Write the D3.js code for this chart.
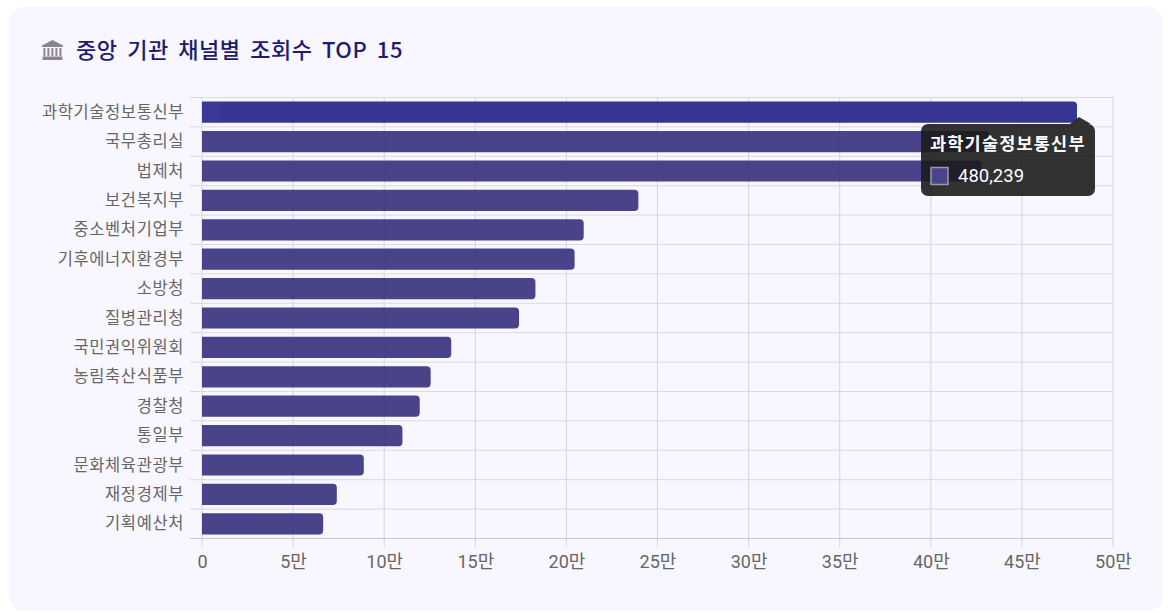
<!DOCTYPE html>
<html lang="ko">
<head>
<meta charset="utf-8">
<script src="https://cdn.jsdelivr.net/npm/d3@7"></script>
<style>
html, body { margin: 0; padding: 0; background: #fff; }
svg { display: block; }
text { font-family: "Noto Sans CJK KR", "Noto Sans", sans-serif; }
.tick-x text { font-family: Roboto, "Noto Sans CJK KR", sans-serif; }
</style>
</head>
<body>
<svg id="chart" width="1172" height="613"></svg>
<script>
var channels = ['과학기술정보통신부', '국무총리실', '법제처', '보건복지부', '중소벤처기업부',
    '기후에너지환경부', '소방청', '질병관리청', '국민권익위원회', '농림축산식품부',
    '경찰청', '통일부', '문화체육관광부', '재정경제부', '기획예산처'];
var views = [480239, 432000, 428000, 239500, 209500, 204500, 183000, 174000,
    136800, 125500, 119500, 110000, 88800, 74000, 66500];
var xTicks = [0, 50000, 100000, 150000, 200000, 250000, 300000, 350000, 400000, 450000, 500000];

var svg = d3.select('#chart');

// card
svg.append('rect')
    .attr('x', 9).attr('y', 7)
    .attr('width', 1154).attr('height', 604)
    .attr('rx', 15)
    .attr('fill', '#f8f7ff');

// title icon
var icon = svg.append('g')
    .attr('transform', 'translate(42,40)')
    .attr('fill', '#8a8494');
icon.append('path').attr('d', 'M10.5 0 L21 5.5 L21 7 L0 7 L0 5.5 Z');
[2, 6, 10, 14, 18].forEach(function(d) {
    icon.append('rect').attr('x', d - 0.6).attr('y', 8).attr('width', 2).attr('height', 8);
});
icon.append('rect').attr('x', 0.5).attr('y', 16.5).attr('width', 20).attr('height', 3.5);

svg.append('text')
    .attr('x', 76).attr('y', 58)
    .attr('font-size', 22)
    .attr('font-weight', 500)
    .attr('fill', '#1e1b70')
    .attr('word-spacing', 3)
    .attr('letter-spacing', 0.5)
    .text('중앙 기관 채널별 조회수 TOP 15');

var x = d3.scaleLinear().domain([0, 500000]).range([202, 1113]);
var y = d3.scaleBand().domain(channels).range([97.5, 538.5]).paddingInner(0.28).paddingOuter(0.14);
var rowEdges = d3.range(channels.length + 1);
var yEdge = d3.scaleLinear().domain([0, channels.length]).range([97.5, 538.5]);

// grid
svg.append('g').selectAll('line')
    .data(xTicks)
    .enter()
    .append('line')
    .attr('x1', function(d) { return x(d); })
    .attr('x2', function(d) { return x(d); })
    .attr('y1', 97.5).attr('y2', 547)
    .attr('stroke', '#d6d4dd');

svg.append('g').selectAll('line')
    .data(rowEdges)
    .enter()
    .append('line')
    .attr('x1', 190).attr('x2', 1113)
    .attr('y1', function(d) { return yEdge(d); })
    .attr('y2', function(d) { return yEdge(d); })
    .attr('stroke', function(d) { return d == channels.length ? '#c8c6d1' : '#dbd9e2'; });

// bars
var barPath = function(d) {
    var x0 = x(0), x1 = x(d), r = 4, h = y.bandwidth();
    return 'M' + x0 + ' 0H' + (x1 - r) + 'Q' + x1 + ' 0 ' + x1 + ' ' + r +
        'V' + (h - r) + 'Q' + x1 + ' ' + h + ' ' + (x1 - r) + ' ' + h + 'H' + x0 + 'Z';
};

svg.append('g').selectAll('path')
    .data(views)
    .enter()
    .append('path')
    .attr('transform', function(d, i) { return 'translate(0,' + y(channels[i]) + ')'; })
    .attr('d', barPath)
    .attr('fill', function(d, i) { return i == 0 ? '#312e8f' : '#332d7c'; })
    .attr('fill-opacity', function(d, i) { return i == 0 ? 0.97 : 0.89; });

// lighter stub at the start of the hovered bar
svg.append('rect')
    .attr('x', x(0)).attr('y', y(channels[0]))
    .attr('width', x(10000) - x(0)).attr('height', y.bandwidth())
    .attr('fill', '#fff').attr('fill-opacity', 0.025);

// labels
svg.append('g').selectAll('text')
    .data(channels)
    .enter()
    .append('text')
    .attr('x', 184)
    .attr('y', function(d) { return y(d) + y.bandwidth() / 2 + 5.5; })
    .attr('text-anchor', 'end')
    .attr('font-size', 16.5)
    .attr('letter-spacing', 0.6)
    .attr('fill', '#666')
    .text(function(d) { return d; });

var axisX = d3.axisBottom(x)
    .tickValues(xTicks)
    .tickSize(0)
    .tickPadding(0)
    .tickFormat(function(d) { return d == 0 ? '0' : (d / 10000) + '만'; });

var axisG = svg.append('g')
    .attr('class', 'tick-x')
    .attr('transform', 'translate(0,551)')
    .call(axisX);
axisG.select('.domain').remove();
axisG.selectAll('text')
    .attr('font-size', 18)
    .attr('fill', '#666')
    .attr('dy', '0.95em');

// tooltip on first bar
var tip = svg.append('g').attr('transform', 'translate(921,124)');
tip.append('path')
    .attr('d', 'M149 0 L158 -7 L170 0 Z')
    .attr('fill', '#2a2a2a').attr('fill-opacity', 0.97);
tip.append('rect')
    .attr('width', 174).attr('height', 72)
    .attr('rx', 7)
    .attr('fill', '#1c1c1c').attr('fill-opacity', 0.9);
tip.append('text')
    .attr('x', 9).attr('y', 26)
    .attr('font-size', 17.5).attr('font-weight', 700)
    .attr('letter-spacing', 1.2)
    .attr('fill', '#fff')
    .text(channels[0]);
tip.append('rect')
    .attr('x', 10).attr('y', 43.5)
    .attr('width', 17).attr('height', 17)
    .attr('fill', '#4a4488')
    .attr('stroke', '#9a98b0').attr('stroke-width', 1.5);
tip.append('text')
    .attr('x', 37).attr('y', 57.5)
    .attr('font-size', 18.5)
    .attr('fill', '#fff')
    .style('font-family', 'Roboto, sans-serif')
    .text(d3.format(',')(views[0]));
</script>
</body>
</html>
